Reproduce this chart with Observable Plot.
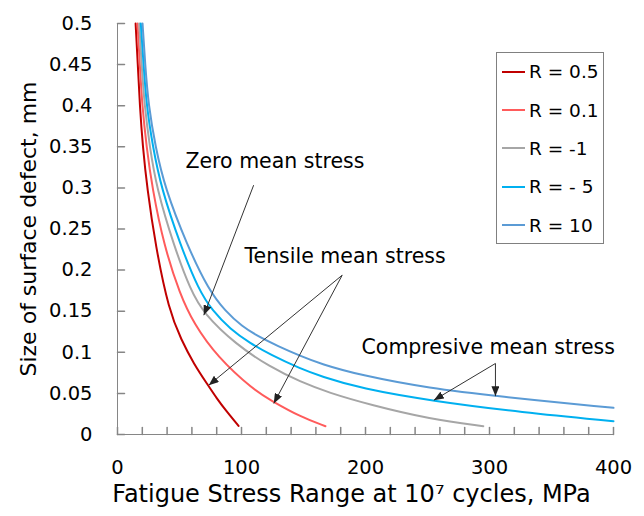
<!DOCTYPE html>
<html><head><meta charset="utf-8">
<script src="https://cdn.jsdelivr.net/npm/d3@7"></script>
<script src="https://cdn.jsdelivr.net/npm/@observablehq/plot@0.6"></script>
<style>
body{margin:0;background:#fff;font-family:"DejaVu Sans",sans-serif;}
#wrap{position:relative;width:644px;height:516px;}
#legend{position:absolute;left:496px;top:52px;width:108px;height:192px;border:1px solid #808080;box-sizing:border-box;background:#fff;}
.row{position:absolute;left:5px;height:26px;display:flex;align-items:center;font-size:18.5px;color:#000;white-space:pre;}
.sw{width:23px;height:2px;margin-right:4px;}
</style></head><body><div id="wrap"><div id="legend"></div></div>
<script>
// ---- data ----
const seriesNames = ["R = 0.5", "R = 0.1", "R = -1", "R = - 5", "R = 10"];
const seriesColors = ["#C00000", "#FF5B5B", "#A6A6A6", "#00B0F0", "#5B9BD5"];

const r05X = [14.6, 16.4, 18, 20.4, 23.9, 30.6, 41.4, 51.5, 61.5, 73, 80, 88, 97.6];
const r05Y = [0.5, 0.45, 0.4, 0.35, 0.3, 0.23, 0.151, 0.115, 0.086, 0.060, 0.044, 0.028, 0.0105];
const r01X = [16.1, 18, 19.9, 23.4, 28, 37.4, 50.5, 61.5, 80.4, 110, 123.4, 147.6, 167.7];
const r01Y = [0.5, 0.45, 0.4, 0.35, 0.3, 0.23, 0.17, 0.135, 0.0944, 0.0539, 0.0418, 0.0214, 0.0101];
const rm1X = [17.5, 19.4, 21.8, 26, 31.5, 45.4, 58.9, 69.6, 95.2, 123, 147.6, 170, 204, 252.4, 295];
const rm1Y = [0.5, 0.45, 0.4, 0.35, 0.3, 0.23, 0.1755, 0.147, 0.110, 0.082, 0.064, 0.051, 0.036, 0.0186, 0.0101];
const rm5X = [18.8, 21, 23.4, 28.5, 35.2, 50.8, 65.6, 76.4, 91, 107, 123.4, 147.6, 163.7, 196, 255, 326, 400];
const rm5Y = [0.5, 0.45, 0.4, 0.35, 0.3, 0.23, 0.1755, 0.151, 0.128, 0.111, 0.097, 0.080, 0.071, 0.056, 0.0405, 0.027, 0.0162];
const r10X = [20.2, 22.3, 25, 30.6, 38.2, 56.2, 73.6, 87, 100, 115, 128.8, 147.6, 163.7, 196, 252.4, 304.8, 400];
const r10Y = [0.5, 0.45, 0.4, 0.35, 0.3, 0.23, 0.1755, 0.150, 0.132, 0.118, 0.108, 0.0954, 0.086, 0.072, 0.056, 0.0467, 0.0324];

const xTicks = [0, 20, 40, 60, 80, 100, 120, 140, 160, 180, 200, 220, 240, 260, 280, 300, 320, 340, 360, 380, 400];
const xTickLabels = [0, 100, 200, 300, 400];
const yTicks = [0, 0.05, 0.1, 0.15, 0.2, 0.25, 0.3, 0.35, 0.4, 0.45, 0.5];
const yTickLabels = ["0", "0.05", "0.1", "0.15", "0.2", "0.25", "0.3", "0.35", "0.4", "0.45", "0.5"];
const xTitle = "Fatigue Stress Range at 10\u2077 cycles, MPa";
const yTitle = "Size of surface defect, mm";

const annTexts = ["Zero mean stress", "Tensile mean stress", "Compresive mean stress"];
const annTextX = [54.8, 102.4, 196.8];
const annTextY = [0.3316, 0.2169, 0.1054];
const arrowX1 = [109.8, 181.2, 181.2, 304.8, 304.8];
const arrowY1 = [0.3033, 0.1938, 0.1938, 0.0864, 0.0864];
const arrowX2 = [69.6, 73.6, 126, 255.1, 304.8];
const arrowY2 = [0.1451, 0.0600, 0.0377, 0.0417, 0.0466];

// ---- build tables ----
const allX = [r05X, r01X, rm1X, rm5X, r10X];
const allY = [r05Y, r01Y, rm1Y, rm5Y, r10Y];
const lineData = [];
seriesNames.forEach((s, i) => allX[i].forEach((x, j) => lineData.push({series: s, x, y: allY[i][j]})));
const annData = annTexts.map((t, i) => ({t, x: annTextX[i], y: annTextY[i]}));
const arrowData = arrowX1.map((x1, i) => ({x1, y1: arrowY1[i], x2: arrowX2[i], y2: arrowY2[i]}));
const yTickData = yTicks.map((v, i) => ({v, label: yTickLabels[i]}));

const tickShape = {draw(ctx, l) { ctx.moveTo(0, 0); ctx.lineTo(0, -l); }};
const axisColor = "#868686";

const chart = Plot.plot({
  width: 644, height: 516,
  marginLeft: 117, marginRight: 31, marginTop: 23, marginBottom: 82,
  x: {domain: [0, 400], axis: null},
  y: {domain: [0, 0.5], axis: null},
  color: {domain: seriesNames, range: seriesColors},
  style: {fontFamily: "'DejaVu Sans', sans-serif", fontSize: "19px", background: "transparent", color: "#000"},
  marks: [
    Plot.ruleX([0], {stroke: axisColor, strokeWidth: 1}),
    Plot.ruleY([0], {stroke: axisColor, strokeWidth: 1}),
    Plot.vector(xTicks, {x: d => d, y: 0, length: 7, rotate: 0, anchor: "start", shape: tickShape, stroke: axisColor}),
    Plot.vector(yTicks, {x: 0, y: d => d, length: 7, rotate: 90, anchor: "start", shape: tickShape, stroke: axisColor}),
    Plot.text(xTickLabels, {x: d => d, y: 0, dy: 33, text: d => String(d), fontSize: 19.5, fill: "#000"}),
    Plot.text(yTickData, {x: 0, y: "v", dx: -25, text: "label", textAnchor: "end", fontSize: 19.5, fill: "#000"}),
    Plot.text([xTitle], {frameAnchor: "bottom", dx: -14, dy: 67, text: d => d, fontSize: 24, fill: "#000"}),
    Plot.text([yTitle], {frameAnchor: "left", dx: -89, rotate: -90, textAnchor: "middle", text: d => d, fontSize: 22, fill: "#000"}),
    Plot.line(lineData, {x: "x", y: "y", z: "series", stroke: "series", strokeWidth: 2, curve: "basis"}),
    Plot.link(arrowData, {x1: "x1", y1: "y1", x2: "x2", y2: "y2", stroke: "#333", strokeWidth: 1}),
    Plot.text(annData, {x: "x", y: "y", text: "t", textAnchor: "start", fontSize: 20.5, fill: "#000"})
  ]
});

// filled arrowheads for annotation links
const svg = d3.select(chart);
svg.append("defs").append("marker")
  .attr("id", "ahead").attr("viewBox", "0 0 10 8").attr("refX", 10).attr("refY", 4)
  .attr("markerWidth", 10).attr("markerHeight", 8).attr("markerUnits", "userSpaceOnUse")
  .attr("orient", "auto")
  .append("path").attr("d", "M0,0L10,4L0,8Z").attr("fill", "#222");
svg.selectAll("g[aria-label='link'] path").attr("marker-end", "url(#ahead)");

const wrap = document.getElementById("wrap");
wrap.insertBefore(chart, wrap.firstChild);

// legend
const legend = document.getElementById("legend");
const rowCenters = [18.7, 57, 95.3, 133.7, 172];
seriesNames.forEach((s, i) => {
  const row = document.createElement("div");
  row.className = "row";
  row.style.top = (rowCenters[i] - 13) + "px";
  row.innerHTML = `<span class="sw" style="background:${seriesColors[i]}"></span><span>${s}</span>`;
  legend.appendChild(row);
});
</script>
</body></html>
